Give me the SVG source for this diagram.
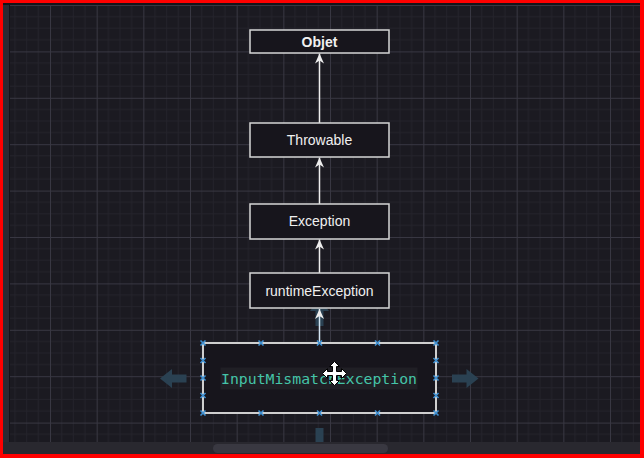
<svg xmlns="http://www.w3.org/2000/svg" width="644" height="458" viewBox="0 0 644 458">
  <style>
    .box { fill: #17151c; stroke: #d6d6d6; stroke-width: 1.5; }
    .lbl { font-family: "Liberation Sans", Arial, sans-serif; font-size: 14px; fill: #f0f0f0; text-anchor: middle; }
    .bold { font-weight: bold; }
    .code { font-family: "DejaVu Sans Mono", "Liberation Mono", monospace; font-size: 14.8px; fill: #45c4a8; text-anchor: middle; }
    .edge { stroke: #ededed; stroke-width: 1.5; fill: none; marker-end: url(#arrow); }
    .hover { fill: #2a4152; }
    .handle { stroke: #3f91d3; stroke-width: 1.6; }
  </style>
  <defs>
    <pattern id="grid" x="3.333" y="5" width="46.667" height="46.4" patternUnits="userSpaceOnUse">
      <rect width="46.667" height="46.4" fill="#1b1a21"/>
      <g stroke="#24232b" stroke-width="1">
        <line x1="11.667" y1="0" x2="11.667" y2="46.4"/>
        <line x1="23.333" y1="0" x2="23.333" y2="46.4"/>
        <line x1="35" y1="0" x2="35" y2="46.4"/>
        <line x1="0" y1="11.6" x2="46.667" y2="11.6"/>
        <line x1="0" y1="23.2" x2="46.667" y2="23.2"/>
        <line x1="0" y1="34.8" x2="46.667" y2="34.8"/>
      </g>
      <g stroke="#383742" stroke-width="1">
        <line x1="0.5" y1="0" x2="0.5" y2="46.4"/>
        <line x1="0" y1="0.5" x2="46.667" y2="0.5"/>
      </g>
    </pattern>
    <marker id="arrow" viewBox="0 0 10 10" refX="10" refY="5" markerWidth="11" markerHeight="10" markerUnits="userSpaceOnUse" orient="auto">
      <path d="M0,0.5 L10,5 L0,9.5 L3,5 Z" fill="#ededed"/>
    </marker>
    <g id="hx"><line x1="-2.5" y1="-2.5" x2="2.5" y2="2.5"/><line x1="-2.5" y1="2.5" x2="2.5" y2="-2.5"/></g>
  </defs>

  <!-- canvas -->
  <rect x="0" y="0" width="644" height="458" fill="#1b1a21"/>
  <rect x="9" y="5" width="631" height="437" fill="url(#grid)"/>
  <rect x="3" y="3" width="6" height="451" fill="#2b2a33"/>
  <line x1="9.5" y1="3" x2="9.5" y2="442" stroke="#141319" stroke-width="1"/>
  <rect x="3" y="3" width="637" height="2" fill="#141319"/>
  <rect x="3" y="442" width="637" height="12" fill="#29282f"/>

  <!-- hover arrows -->
  <g id="hover-arrows">
    <path class="hover" d="M319.5,299 L329,311 L323.5,311 L323.5,326 L315.5,326 L315.5,311 L310,311 Z"/>
    <path class="hover" d="M160,378.5 L172,369 L172,374.5 L186.5,374.5 L186.5,382.5 L172,382.5 L172,388 Z"/>
    <path class="hover" d="M478.5,378.5 L466.5,369 L466.5,374.5 L452,374.5 L452,382.5 L466.5,382.5 L466.5,388 Z"/>
    <rect class="hover" x="315.5" y="428" width="8" height="14"/>
  </g>

  <!-- connectors -->
  <g id="connectors">
    <line class="edge" x1="319.5" y1="123" x2="319.5" y2="53.5"/>
    <line class="edge" x1="319.5" y1="204" x2="319.5" y2="157.5"/>
    <line class="edge" x1="319.5" y1="273" x2="319.5" y2="239.5"/>
    <line class="edge" x1="319.5" y1="343" x2="319.5" y2="309" style="stroke:#d3e5f3"/>
  </g>

  <!-- nodes -->
  <g id="node-objet">
    <rect class="box" x="250" y="30" width="139" height="23"/>
    <text class="lbl bold" x="319.5" y="46.5">Objet</text>
  </g>
  <g id="node-throwable">
    <rect class="box" x="250" y="123" width="139" height="34"/>
    <text class="lbl" x="319.5" y="145">Throwable</text>
  </g>
  <g id="node-exception">
    <rect class="box" x="250" y="204" width="139" height="35"/>
    <text class="lbl" x="319.5" y="226">Exception</text>
  </g>
  <g id="node-runtime">
    <rect class="box" x="250" y="273" width="139" height="35"/>
    <text class="lbl" x="319.5" y="295.5">runtimeException</text>
  </g>
  <g id="node-input">
    <rect class="box" x="203" y="343" width="233" height="70" style="stroke:#cfcfcf;stroke-width:2"/>
    <rect x="220.5" y="367.5" width="197" height="22" fill="#201f25"/>
    <text class="code" x="319" y="383.5">InputMismatchException</text>
    <g class="handle">
      <use href="#hx" x="203" y="343"/><use href="#hx" x="261" y="343"/><use href="#hx" x="319.5" y="343"/><use href="#hx" x="377.5" y="343"/><use href="#hx" x="436" y="343"/>
      <use href="#hx" x="203" y="413"/><use href="#hx" x="261" y="413"/><use href="#hx" x="319.5" y="413"/><use href="#hx" x="377.5" y="413"/><use href="#hx" x="436" y="413"/>
      <use href="#hx" x="203" y="360.5"/><use href="#hx" x="203" y="378"/><use href="#hx" x="203" y="395.5"/>
      <use href="#hx" x="436" y="360.5"/><use href="#hx" x="436" y="378"/><use href="#hx" x="436" y="395.5"/>
    </g>
  </g>

  <!-- move cursor -->
  <path transform="translate(334.5,373.5)" fill="#ffffff" stroke="#000000" stroke-width="1" stroke-linejoin="round"
    d="M0,-12 L5,-7 L2,-7 L2,-2 L7,-2 L7,-5 L12,0 L7,5 L7,2 L2,2 L2,7 L5,7 L0,12 L-5,7 L-2,7 L-2,2 L-7,2 L-7,5 L-12,0 L-7,-5 L-7,-2 L-2,-2 L-2,-7 L-5,-7 Z"/>

  <!-- scrollbar -->
  <rect x="213" y="444" width="175" height="9" rx="4.5" fill="#393841"/>

  <!-- red frame -->
  <rect x="1.5" y="1.5" width="641" height="455" fill="none" stroke="#ff0000" stroke-width="3"/>
  <rect x="640" y="0" width="4" height="458" fill="#ff0000"/>
  <rect x="0" y="454" width="644" height="4" fill="#ff0000"/>
</svg>
